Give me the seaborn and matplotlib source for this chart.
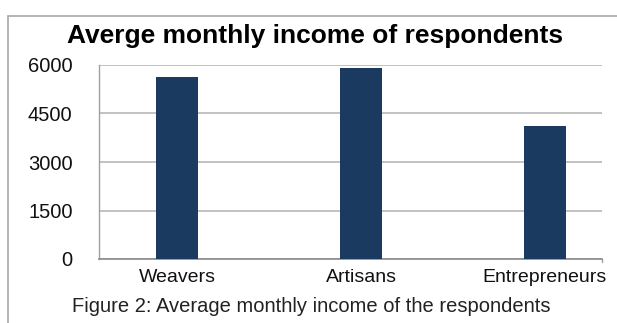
import matplotlib
matplotlib.use("Agg")
import matplotlib.pyplot as plt
import seaborn as sns
import pandas as pd

groups = ["Weavers", "Artisans", "Entrepreneurs"]
income = [5620, 5900, 4110]
y_ticks = [0, 1500, 3000, 4500, 6000]

sns.set_style("white")
plt.rcParams["font.family"] = ["Liberation Sans", "DejaVu Sans"]

df = pd.DataFrame({"group": groups, "income": income})

W, H = 617, 323
fig = plt.figure(figsize=(W / 100, H / 100), dpi=100)
ax = fig.add_axes([99 / W, 64 / H, (602 - 99) / W, 194 / H])

sns.barplot(data=df, x="group", y="income", color="#1b3a60", width=0.228,
            saturation=1, linewidth=0, ax=ax, zorder=3)

ax.set_ylim(0, 6000)
ax.set_xlim(-0.424, 2.31)
ax.set_yticks(y_ticks)
ax.set_yticklabels([str(v) for v in y_ticks], fontsize=14.5, color="#111111")
ax.tick_params(axis="y", direction="out", length=5, width=1, color="#a0a0a0", pad=14)
ax.tick_params(axis="x", length=0, pad=7.5, labelsize=14, labelcolor="#111111")
ax.set_xlabel("")
ax.set_ylabel("")
ax.yaxis.grid(True, color="#b8b8b8", linewidth=1.2, zorder=0)
ax.set_axisbelow(True)

for side in ["top", "right"]:
    ax.spines[side].set_visible(False)
ax.spines["left"].set_color("#a0a0a0")
ax.spines["left"].set_linewidth(1)
ax.spines["bottom"].set_color("#8a8a8a")
ax.spines["bottom"].set_linewidth(1.2)
ax.plot([1, 1], [0, -0.015], transform=ax.transAxes, color="#a0a0a0",
        lw=1, clip_on=False)

fig.text(315 / W, 1 - 36.5 / H, "Averge monthly income of respondents",
         ha="center", va="center", fontsize=19, fontweight="bold", color="#000000")
fig.text(311 / W, 1 - 306 / H, "Figure 2: Average monthly income of the respondents",
         ha="center", va="center", fontsize=14.5, color="#222222")

# outer chart frame (left and top edges)
fig.add_artist(plt.Line2D([8 / W, 8 / W], [0, 1 - 16 / H], color="#a8a8a8",
                          lw=1.2, transform=fig.transFigure))
fig.add_artist(plt.Line2D([8 / W, 1], [1 - 16 / H, 1 - 16 / H], color="#a8a8a8",
                          lw=1.2, transform=fig.transFigure))

fig.savefig("out.png", dpi=100, facecolor="white")
